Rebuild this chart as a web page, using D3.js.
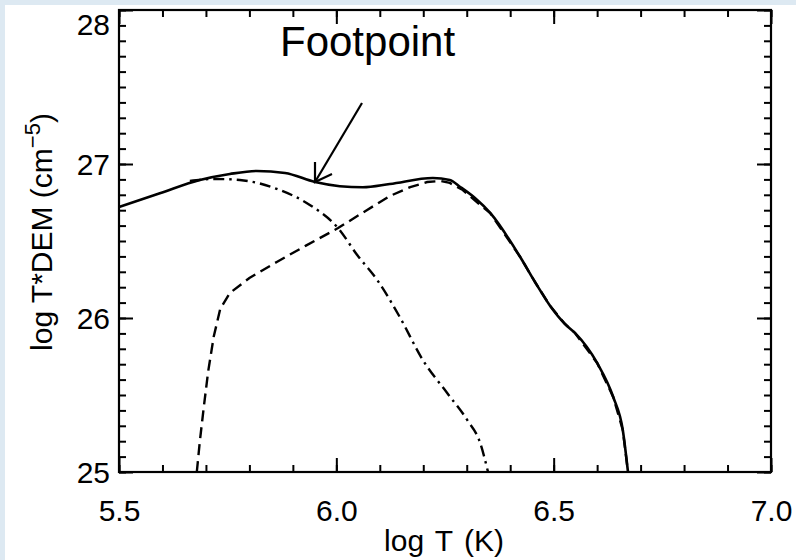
<!DOCTYPE html>
<html lang="en">
<head>
    <meta charset="UTF-8">
    <title>log T*DEM</title>
    <script src="https://d3js.org/d3.v7.min.js"></script>
    <style>
        body { margin: 0; background: #dde9f2; }
        svg { display: block; }
        text { font-family: "Liberation Sans", Arial, sans-serif; fill: #000; }
    </style>
</head>
<body>
    <svg id="chart" width="796" height="560"></svg>
    <script>
        // values (log T, log T*DEM)
        const solidX = [5.500, 5.594, 5.686, 5.755, 5.817, 5.882, 5.951, 6.008, 6.061, 6.123, 6.222, 6.261, 6.285, 6.319, 6.354, 6.423, 6.457, 6.492, 6.526, 6.549, 6.600, 6.637, 6.659, 6.671];
        const solidY = [26.721, 26.81, 26.896, 26.935, 26.955, 26.942, 26.883, 26.856, 26.849, 26.870, 26.909, 26.896, 26.851, 26.779, 26.682, 26.396, 26.234, 26.078, 25.961, 25.903, 25.708, 25.487, 25.273, 25.000];

        const dashedX = [5.679, 5.686, 5.695, 5.705, 5.718, 5.733, 5.755, 5.80, 5.863, 5.93, 6.004, 6.07, 6.123, 6.17, 6.209, 6.24, 6.261, 6.291, 6.331, 6.354, 6.423, 6.457, 6.492, 6.526, 6.549, 6.600, 6.637, 6.659, 6.671];
        const dashedY = [25.000, 25.20, 25.42, 25.65, 25.88, 26.06, 26.162, 26.26, 26.364, 26.47, 26.584, 26.70, 26.792, 26.85, 26.883, 26.89, 26.877, 26.831, 26.734, 26.682, 26.396, 26.234, 26.078, 25.961, 25.903, 25.708, 25.487, 25.273, 25.000];

        const dotdashX = [5.663, 5.721, 5.778, 5.870, 5.939, 6.004, 6.048, 6.094, 6.146, 6.199, 6.255, 6.301, 6.331, 6.349];
        const dotdashY = [26.890, 26.903, 26.896, 26.831, 26.734, 26.584, 26.409, 26.247, 26.006, 25.727, 25.513, 25.338, 25.188, 25.000];

        const xTicks = [5.5, 6.0, 6.5, 7.0];
        const yTicks = [25, 26, 27, 28];

        const svg = d3.select("#chart");
        svg.append("rect").attr("x", 5).attr("y", 5).attr("width", 791).attr("height", 555).attr("fill", "#fff");

        const x = d3.scaleLinear().domain([5.5, 7.0]).range([119, 771]);
        const y = d3.scaleLinear().domain([25, 28]).range([472, 10]);

        const zip = (a, b) => a.map((v, i) => [v, b[i]]);
        const line = d3.line().x(d => x(d[0])).y(d => y(d[1])).curve(d3.curveMonotoneX);
        const lineStraight = d3.line().x(d => x(d[0])).y(d => y(d[1]));

        const g = svg.append("g");
        g.append("path").datum(zip(dashedX, dashedY)).attr("d", lineStraight)
            .attr("fill", "none").attr("stroke", "#000").attr("stroke-width", 2.4)
            .attr("stroke-dasharray", "11,6");
        g.append("path").datum(zip(dotdashX, dotdashY)).attr("d", line)
            .attr("fill", "none").attr("stroke", "#000").attr("stroke-width", 2.4)
            .attr("stroke-dasharray", "11,5,2.5,5");
        g.append("path").datum(zip(solidX, solidY)).attr("d", line)
            .attr("fill", "none").attr("stroke", "#000").attr("stroke-width", 2.6);

        // minor ticks every 0.1, inward on all sides
        const xMinor = d3.range(5.5, 7.0001, 0.1).map(v => +v.toFixed(2));
        const yMinor = d3.range(25, 28.0001, 0.1).map(v => +v.toFixed(2));

        const axStyle = sel => {
            sel.select(".domain").remove();
            sel.selectAll(".tick line").attr("stroke", "#000").attr("stroke-width", 2);
        };

        const sides = [
            [d3.axisTop, x, "translate(0,472)"],
            [d3.axisBottom, x, "translate(0,10)"],
            [d3.axisRight, y, "translate(119,0)"],
            [d3.axisLeft, y, "translate(771,0)"]
        ];
        sides.forEach(([axis, sc, tr]) => {
            const minor = sc === x ? xMinor : yMinor;
            const major = sc === x ? xTicks : yTicks;
            svg.append("g").attr("transform", tr)
                .call(axis(sc).tickValues(minor).tickSize(7).tickFormat(""))
                .call(axStyle);
            svg.append("g").attr("transform", tr)
                .call(axis(sc).tickValues(major).tickSize(14).tickFormat(""))
                .call(axStyle);
        });

        // tick labels
        const xl = svg.append("g").attr("transform", "translate(0,472)")
            .call(d3.axisBottom(x).tickValues(xTicks).tickSize(0).tickPadding(0).tickFormat(d3.format(".1f")));
        xl.select(".domain").remove();
        xl.selectAll("text").attr("y", 49).attr("dy", 0).style("font-size", "30px")
            .style("font-family", "'Liberation Sans', Arial, sans-serif");

        const yl = svg.append("g").attr("transform", "translate(119,0)")
            .call(d3.axisLeft(y).tickValues(yTicks).tickSize(0).tickPadding(9).tickFormat(d3.format("d")));
        yl.select(".domain").remove();
        yl.selectAll("text").style("font-size", "30px")
            .style("font-family", "'Liberation Sans', Arial, sans-serif")
            .attr("dy", d => d === 28 ? "0.8em" : "0.36em");

        // frame
        svg.append("rect").attr("x", 119).attr("y", 10).attr("width", 652).attr("height", 462)
            .attr("fill", "none").attr("stroke", "#000").attr("stroke-width", 2.2);

        // axis titles
        svg.append("text").attr("x", 444).attr("y", 551).attr("text-anchor", "middle")
            .style("font-size", "30px").style("word-spacing", "3px").text("log T (K)");

        const yt = svg.append("text").attr("transform", "translate(52,232) rotate(-90)")
            .attr("text-anchor", "middle").style("font-size", "30px");
        yt.append("tspan").text("log T*DEM (cm");
        yt.append("tspan").attr("dy", -12).style("font-size", "22px").text("\u22125");
        yt.append("tspan").attr("dy", 12).text(")");

        // annotation
        svg.append("text").attr("x", 280).attr("y", 56).style("font-size", "42px").text("Footpoint");

        const ax0 = [362, 103], ax1 = [315, 182];
        svg.append("line").attr("x1", ax0[0]).attr("y1", ax0[1]).attr("x2", ax1[0]).attr("y2", ax1[1])
            .attr("stroke", "#000").attr("stroke-width", 2.2);
        svg.append("path").attr("d", `M${ax1[0]},${ax1[1] - 20}L${ax1[0]},${ax1[1]}L${ax1[0] + 17},${ax1[1] - 8}`)
            .attr("fill", "none").attr("stroke", "#000").attr("stroke-width", 2.2);
    </script>
</body>
</html>
